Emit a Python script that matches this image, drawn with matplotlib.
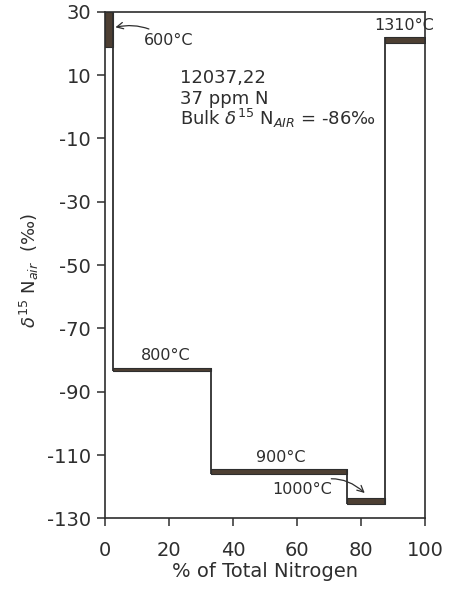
import matplotlib
matplotlib.use('Agg')
import matplotlib.pyplot as plt

plt.rcParams['axes.unicode_minus'] = False

# release steps: temperature, % of total N range, delta15N band
temps = ['600°C', '800°C', '900°C', '1000°C', '1310°C']
x_start = [0, 2.5, 33, 75.5, 87.5]
x_end = [2.5, 33, 75.5, 87.5, 100]
d_low = [19, -83.5, -116, -125.5, 20]
d_high = [30, -82.5, -114.5, -123.5, 22]

yticks = [30, 10, -10, -30, -50, -70, -90, -110, -130]
xticks = [0, 20, 40, 60, 80, 100]

ink = '#2e2e2e'
band = '#4d3f33'

fig = plt.figure(figsize=(4.53, 5.89), dpi=100)
ax = fig.add_axes([0.232, 0.12, 0.706, 0.86])

for i in range(len(temps)):
    ax.fill_between([x_start[i], x_end[i]], d_low[i], d_high[i],
                    color=band, lw=0.8, edgecolor=ink)
    if i < len(temps) - 1:
        lo = min(d_low[i], d_low[i + 1])
        hi = max(d_high[i], d_high[i + 1])
        ax.vlines(x_end[i], lo, hi, color=ink, lw=1.3)

ax.set_xlim(0, 100)
ax.set_ylim(-130, 30)
ax.set_xticks(xticks)
ax.set_yticks(yticks)
ax.tick_params(direction='out', length=6, width=1.1, colors=ink,
               labelsize=14, pad=4)
ax.tick_params(axis='x', pad=10)
for s in ax.spines.values():
    s.set_color(ink)
    s.set_linewidth(1.2)

ax.set_xlabel('% of Total Nitrogen', fontsize=14, color=ink, labelpad=2)
ax.set_ylabel(r'$\delta^{15}$ N$_{air}$  (‰)', fontsize=13, color=ink)
ax.yaxis.set_label_coords(-0.2, 0.49)

# step labels
ax.annotate(temps[0], xy=(2.8, 25), xytext=(12, 21), fontsize=11.5, color=ink,
            va='center', ha='left',
            arrowprops=dict(arrowstyle='->', color=ink, lw=0.9,
                            connectionstyle='arc3,rad=0.25',
                            shrinkA=2, shrinkB=1))
ax.text(19, -78.5, temps[1], fontsize=11.5, color=ink, ha='center', va='center')
ax.text(55, -110.8, temps[2], fontsize=11.5, color=ink, ha='center', va='center')
ax.annotate(temps[3], xy=(81.5, -122.3), xytext=(71, -120.8), fontsize=11.5,
            color=ink, va='center', ha='right',
            arrowprops=dict(arrowstyle='->', color=ink, lw=0.9,
                            connectionstyle='arc3,rad=-0.4',
                            shrinkA=2, shrinkB=1))
ax.text(93.5, 25.6, temps[4], fontsize=11.5, color=ink, ha='center', va='center')

ax.text(23.5, 9, '12037,22', fontsize=13, color=ink, va='center')
ax.text(23.5, 2.6, '37 ppm N', fontsize=13, color=ink, va='center')
ax.text(23.5, -3.8, r'Bulk $\delta^{15}$ N$_{AIR}$ = -86‰', fontsize=13,
        color=ink, va='center')

fig.savefig('out.png', dpi=100)
